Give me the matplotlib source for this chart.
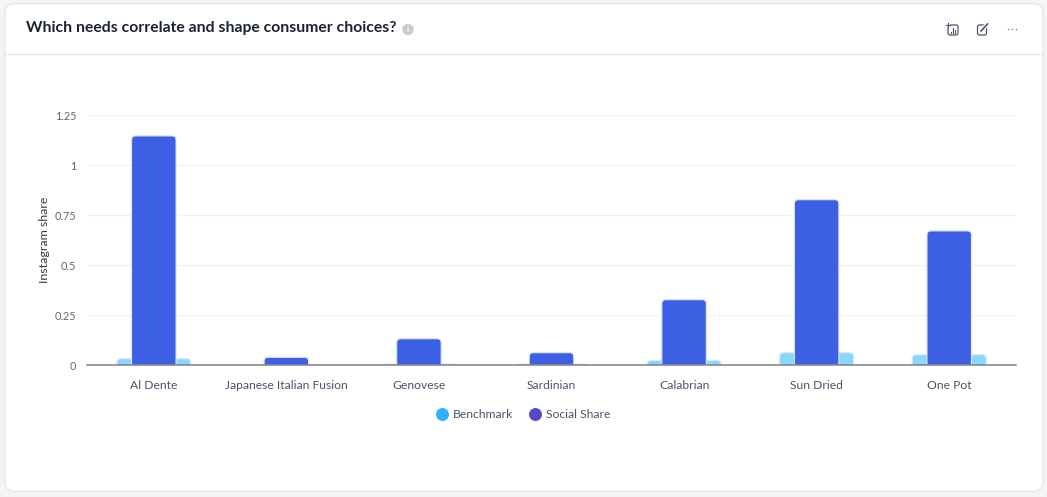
import numpy as np
import matplotlib
matplotlib.use("Agg")
import matplotlib.pyplot as plt
from matplotlib.lines import Line2D
from matplotlib.patches import FancyBboxPatch, PathPatch, Circle, Rectangle
from matplotlib.path import Path

categories = ["Al Dente", "Japanese Italian Fusion", "Genovese", "Sardinian",
              "Calabrian", "Sun Dried", "One Pot"]
benchmark = [0.033, 0.002, 0.006, 0.006, 0.024, 0.063, 0.053]
social_share = [1.147, 0.04, 0.133, 0.063, 0.328, 0.828, 0.672]
y_ticks = [0, 0.25, 0.5, 0.75, 1, 1.25]
y_labels = ["0", "0.25", "0.5", "0.75", "1", "1.25"]

W, H = 1047, 497
plt.rcParams["font.family"] = ["Lato", "DejaVu Sans"]

TEXT = "#4a5468"


def rounded_bar(ax, x, width, height, color, zorder):
    # rounded top corners, radius given in pixels and scaled to data units
    rx = min(4 / 132.6, width / 2)
    ry = min(4 / 200, height)
    l, r = x - width / 2, x + width / 2
    verts = [(l, 0), (l, height - ry), (l, height), (l + rx, height),
             (r - rx, height), (r, height), (r, height - ry), (r, 0), (l, 0)]
    codes = [Path.MOVETO, Path.LINETO, Path.CURVE3, Path.CURVE3,
             Path.LINETO, Path.CURVE3, Path.CURVE3, Path.LINETO, Path.CLOSEPOLY]
    ax.add_patch(PathPatch(Path(verts, codes), facecolor=color, edgecolor="#dfe6fb",
                           linewidth=0.8, zorder=zorder))


fig = plt.figure(figsize=(W / 100, H / 100), dpi=100, facecolor="#f3f4f6")

# card and header, drawn in pixel coordinates
bg = fig.add_axes([0, 0, 1, 1])
bg.set_xlim(0, W)
bg.set_ylim(H, 0)
bg.axis("off")
bg.add_patch(FancyBboxPatch((5, 3.5), 1038, 488, boxstyle="round,pad=0,rounding_size=10",
                            facecolor="white", edgecolor="#e4e6ea", linewidth=1))
bg.plot([5, 1043], [53.8, 53.8], color="#e4e6ea", lw=1)
bg.text(26, 27.8, "Which needs correlate and shape consumer choices?", fontsize=11.35,
        fontweight="bold", color="#1b2230", va="center", ha="left")
bg.add_patch(Circle((408, 29.5), 5, color="#c9ccd3"))
bg.text(408, 29.5, "i", fontsize=6, color="white", ha="center", va="center", fontweight="bold")

# toolbar icons
ic = "#4b5563"
bg.add_patch(FancyBboxPatch((948, 25), 10, 10, boxstyle="round,pad=0,rounding_size=2",
                            facecolor="none", edgecolor=ic, linewidth=0.9))
bg.add_patch(Rectangle((945, 22), 5, 5, facecolor="white", edgecolor="none"))
bg.plot([946, 950], [25, 25], color=ic, lw=0.8)
bg.plot([948, 948], [23, 27], color=ic, lw=0.8)
for bx, by in [(951, 32), (953, 28), (955, 30)]:
    bg.plot([bx, bx], [33, by], color=ic, lw=0.8)
bg.add_patch(FancyBboxPatch((977.5, 25), 9, 10, boxstyle="round,pad=0,rounding_size=2",
                            facecolor="white", edgecolor=ic, linewidth=0.9))
bg.plot([981, 987.5], [31, 24], color="white", lw=3)
bg.plot([981, 987.5], [31, 24], color=ic, lw=1.2)
bg.plot([1008, 1012, 1016], [29, 29, 29], ls="none", marker="o", ms=1, mew=0, color="#6b7280")

# chart, 0 sits at y=365.3 px and 1.25 at y=115.3 px
ax = fig.add_axes([87.5 / W, 1 - 365.3 / H, 928 / W, 250 / H])
ax.set_facecolor("none")
x = np.arange(len(categories))
ax.set_xlim(-0.5, len(categories) - 0.5)
ax.set_ylim(0, 1.25)
for i in x:
    rounded_bar(ax, i, 74 / 132.6, benchmark[i], "#87d7ff", 2)
    rounded_bar(ax, i, 44.5 / 132.6, social_share[i], "#3d5fe3", 3)

ax.set_yticks(y_ticks)
ax.set_yticklabels(y_labels, fontsize=7.8, color="#5d6675")
ax.set_xticks(x)
ax.set_xticklabels(categories, fontsize=8.75, color=TEXT)
ax.tick_params(axis="both", length=0)
ax.tick_params(axis="y", pad=8)
ax.tick_params(axis="x", pad=10.5)
ax.grid(axis="y", color="#f0f1f3", lw=1, zorder=0)
ax.set_axisbelow(True)
for s in ["top", "right", "left"]:
    ax.spines[s].set_visible(False)
ax.spines["bottom"].set_color("#808080")
ax.spines["bottom"].set_linewidth(1.1)
ax.spines["bottom"].set_zorder(5)
ax.set_ylabel("Instagram share", fontsize=8.9, color="#2f3947", labelpad=0)
ax.yaxis.set_label_coords((49 - 87) / 928, 0.5)

handles = [Line2D([], [], ls="none", marker="o", ms=8.3, color="#2eb0ff", label="Benchmark"),
           Line2D([], [], ls="none", marker="o", ms=8.3, color="#5549c8", label="Social Share")]
fig.legend(handles=handles, loc="center", bbox_to_anchor=(520.5 / W, 1 - 414.5 / H), ncol=2,
           frameon=False, fontsize=8.75, labelcolor=TEXT, handletextpad=0.0,
           columnspacing=0.9, borderpad=0, handlelength=1.8)

fig.savefig("out.png", dpi=100, facecolor=fig.get_facecolor())
